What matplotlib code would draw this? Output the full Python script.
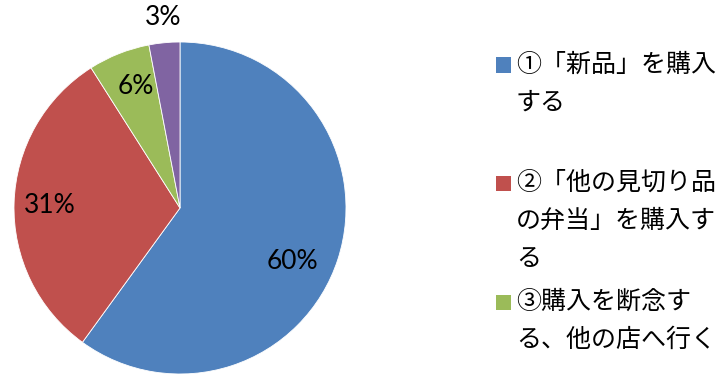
import matplotlib.pyplot as plt
from matplotlib.patches import Rectangle

# datos del grafico
valores = [60, 31, 6, 3]
etiquetas_pct = ["60%", "31%", "6%", "3%"]
colores = ["#4F81BD", "#C0504D", "#9BBB59", "#8064A2"]
leyenda = ["①「新品」を購入\nする",
           "②「他の見切り品\nの弁当」を購入す\nる",
           "③購入を断念す\nる、他の店へ行く"]

# posicion de las etiquetas de porcentaje (en unidades del radio)
pos_pct = [(0.675, -0.325), (-0.783, 0.018), (-0.265, 0.729), (-0.102, 1.145)]
# centro vertical de cada entrada de la leyenda (pixeles desde arriba)
ley_y = [65, 183, 302]

plt.rcParams['font.family'] = ['Noto Sans CJK JP', 'DejaVu Sans']

W, H = 718, 374
fig = plt.figure(figsize=(W / 100, H / 100), dpi=100)

cx, cy, r = 180, 208, 166
ax = fig.add_axes([(cx - r) / W, (H - cy - r) / H, 2 * r / W, 2 * r / H])
ax.pie(valores, colors=colores, startangle=90, counterclock=False,
       wedgeprops=dict(edgecolor='white', linewidth=0.6))
ax.set_xlim(-1, 1)
ax.set_ylim(-1, 1)
ax.set_aspect('equal')
ax.axis('off')

for txt, (x, y) in zip(etiquetas_pct, pos_pct):
    ax.text(x, y, txt, ha='center', va='center', fontsize=19,
            family=['Lato', 'DejaVu Sans'], clip_on=False)

# leyenda manual
for lab, col, y in zip(leyenda, colores, ley_y):
    fig.patches.append(Rectangle((496 / W, (H - y - 7.5) / H), 15 / W, 15 / H,
                                 transform=fig.transFigure, facecolor=col,
                                 edgecolor='none'))
    fig.text(516 / W, (H - y + 13) / H, lab, ha='left', va='top',
             fontsize=18, linespacing=1.6)

fig.savefig("out.png", dpi=100)
